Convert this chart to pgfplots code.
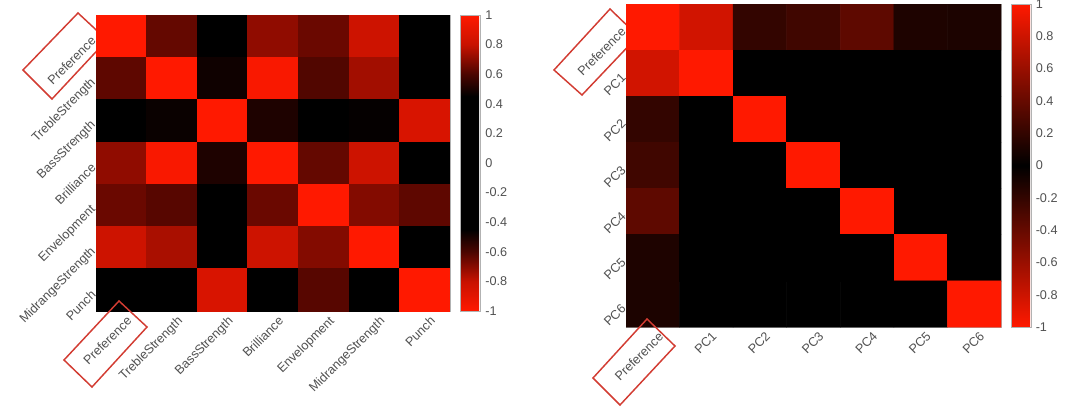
\documentclass[border=0pt]{standalone}
\usepackage{fontspec}
\setmainfont{Liberation Sans}
\usepackage{pgfplots}
\pgfplotsset{compat=1.18}

\definecolor{boxred}{RGB}{210,60,50}
\definecolor{lbl}{RGB}{80,80,80}

\pgfplotsset{
  heat/.style={
    scale only axis, enlargelimits=false,
    xmin=-0.5, xmax=6.5, ymin=-0.5, ymax=6.5, y dir=reverse,
    xtick={0,...,6}, ytick={0,...,6},
    point meta min=-1, point meta max=1,
    axis line style={gray!60}, tick style={gray!60}, major tick length=2pt,
    tick label style={font=\fontsize{9.5}{11}\selectfont, text=lbl},
    xticklabel style={rotate=45, anchor=north east, inner sep=1.5pt, yshift=-3pt, xshift=2pt},
    yticklabel style={rotate=45, anchor=east, inner sep=1.5pt, xshift=-1pt},
    colorbar,
    colorbar style={
      scale only axis, width=15.5pt,
      at={(parent axis.north east)}, anchor=north west, xshift=-1pt,
      ytick={-1,-0.8,-0.6,-0.4,-0.2,0,0.2,0.4,0.6,0.8,1},
      axis line style={gray!60}, major tick length=0pt,
      yticklabel style={font=\fontsize{9.5}{11}\selectfont, text=lbl},
      /pgf/number format/assume math mode=true},
  },
  colormap={leftmap}{rgb255(0cm)=(255,25,0); rgb255(2cm)=(200,18,0);
    rgb255(4cm)=(75,5,0); rgb255(5.5cm)=(0,0,0); rgb255(14.5cm)=(0,0,0);
    rgb255(16cm)=(75,5,0); rgb255(18cm)=(200,18,0); rgb255(20cm)=(255,25,0)},
  colormap={rightmap}{rgb255(0cm)=(255,25,0); rgb255(10cm)=(0,0,0); rgb255(20cm)=(255,25,0)},
}

\begin{document}
\begin{tikzpicture}
\useasboundingbox (0,0) rectangle (810pt,310.5pt);

% boxes behind the heatmaps (y labels)
\draw[boxred, line width=1.1pt] (58.5pt,300.75pt) -- (80.25pt,280.5pt) -- (39pt,236.25pt) -- (17.25pt,258pt) -- cycle;
\draw[boxred, line width=1.1pt] (457.5pt,303.75pt) -- (478.5pt,283.5pt) -- (436.5pt,239.25pt) -- (415.5pt,258pt) -- cycle;

\begin{axis}[heat, colormap name=leftmap,
  at={(72pt,77.25pt)}, anchor=south west, width=265.5pt, height=222pt,
  xticklabels={Preference,TrebleStrength,BassStrength,Brilliance,Envelopment,MidrangeStrength,Punch},
  yticklabels={Preference,TrebleStrength,BassStrength,Brilliance,Envelopment,MidrangeStrength,Punch}]
\addplot[matrix plot*, mesh/cols=7, point meta=explicit] table[meta=c] {
x y c
0 0 1.00
1 0 0.64
2 0 0.25
3 0 0.71
4 0 0.65
5 0 0.82
6 0 0.20
0 1 0.63
1 1 1.00
2 1 0.48
3 1 0.98
4 1 0.61
5 1 0.74
6 1 0.15
0 2 0.30
1 2 0.47
2 2 1.00
3 2 0.51
4 2 0.20
5 2 0.46
6 2 0.86
0 3 0.71
1 3 0.98
2 3 0.51
3 3 1.00
4 3 0.64
5 3 0.82
6 3 0.25
0 4 0.65
1 4 0.62
2 4 0.30
3 4 0.65
4 4 1.00
5 4 0.69
6 4 0.63
0 5 0.82
1 5 0.75
2 5 0.35
3 5 0.82
4 5 0.69
5 5 1.00
6 5 0.30
0 6 0.20
1 6 0.15
2 6 0.86
3 6 0.25
4 6 0.62
5 6 0.30
6 6 1.00
};
\end{axis}

\begin{axis}[heat, colormap name=rightmap,
  at={(469.5pt,65.25pt)}, anchor=south west, width=281.25pt, height=242.25pt,
  xticklabels={Preference,PC1,PC2,PC3,PC4,PC5,PC6},
  yticklabels={Preference,PC1,PC2,PC3,PC4,PC5,PC6},
  colorbar style={width=15pt}]
\addplot[matrix plot*, mesh/cols=7, point meta=explicit] table[meta=c] {
x y c
0 0 1.00
1 0 0.82
2 0 0.20
3 0 0.25
4 0 0.37
5 0 0.12
6 0 0.11
0 1 0.82
1 1 1.00
2 1 0
3 1 0
4 1 0
5 1 0
6 1 0
0 2 0.20
1 2 0
2 2 1.00
3 2 0
4 2 0
5 2 0
6 2 0
0 3 0.25
1 3 0
2 3 0
3 3 1.00
4 3 0
5 3 0
6 3 0
0 4 0.37
1 4 0
2 4 0
3 4 0
4 4 1.00
5 4 0
6 4 0
0 5 0.12
1 5 0
2 5 0
3 5 0
4 5 0
5 5 1.00
6 5 0
0 6 0.11
1 6 0
2 6 0
3 6 0
4 6 0
5 6 0
6 6 1.00
};
\end{axis}

% boxes in front (x labels)
\draw[boxred, line width=1.1pt] (89.25pt,84.75pt) -- (110.25pt,65.25pt) -- (69pt,20.25pt) -- (48pt,40.5pt) -- cycle;
\draw[boxred, line width=1.1pt] (485.25pt,71.25pt) -- (506.25pt,51pt) -- (465pt,6.75pt) -- (444.75pt,27pt) -- cycle;
\end{tikzpicture}
\end{document}
